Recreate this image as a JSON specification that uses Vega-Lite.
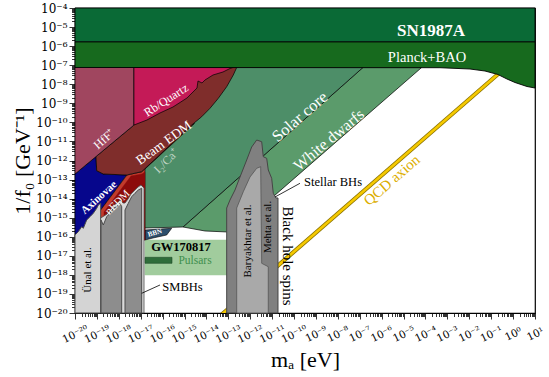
{
"$schema": "https://vega.github.io/schema/vega-lite/v6.json",
"width": 460, "height": 305,
"autosize": {"type": "none"},
"padding": {"left": 75, "top": 8, "right": 14, "bottom": 64},
"background": "white",
"config": {"view": {"stroke": "#000", "strokeWidth": 1.2}, "font": "Liberation Serif"},
"datasets": {
"poly": [
{"r":"SN","m":-20,"g":-5.77},{"r":"SN","m":1,"g":-5.77},{"r":"SN","m":1,"g":-4},{"r":"SN","m":-20,"g":-4},{"r":"SN","m":-20,"g":-5.77},
{"r":"PL","m":-20,"g":-5.77},{"r":"PL","m":1,"g":-5.77},{"r":"PL","m":1,"g":-8.197},{"r":"PL","m":0.634,"g":-8.118},{"r":"PL","m":0.086,"g":-7.908},{"r":"PL","m":-0.279,"g":-7.725},{"r":"PL","m":-0.69,"g":-7.489},{"r":"PL","m":-1.283,"g":-7.305},{"r":"PL","m":-1.968,"g":-7.2},{"r":"PL","m":-3.338,"g":-7.132},{"r":"PL","m":-20,"g":-7.12},{"r":"PL","m":-20,"g":-5.77},
{"r":"WD","m":-6.853,"g":-7.12},{"r":"WD","m":-4.173,"g":-7.12},{"r":"WD","m":-12.696,"g":-15.643},{"r":"WD","m":-13.016,"g":-15.751},{"r":"WD","m":-14.065,"g":-15.698},{"r":"WD","m":-15.07,"g":-15.488},{"r":"WD","m":-6.853,"g":-7.12},
{"r":"SC","m":-17.033,"g":-7.12},{"r":"SC","m":-6.853,"g":-7.12},{"r":"SC","m":-15.07,"g":-15.488},{"r":"SC","m":-16.804,"g":-15.541},{"r":"SC","m":-17.033,"g":-15.541},{"r":"SC","m":-17.033,"g":-7.12},
{"r":"GW","m":-16.804,"g":-16.17},{"r":"GW","m":-12.97,"g":-16.17},{"r":"GW","m":-12.97,"g":-18.006},{"r":"GW","m":-16.804,"g":-18.006},{"r":"GW","m":-16.804,"g":-16.17},
{"r":"PU","m":-16.804,"g":-17.078},{"r":"PU","m":-15.572,"g":-17.078},{"r":"PU","m":-15.572,"g":-17.393},{"r":"PU","m":-16.804,"g":-17.393},{"r":"PU","m":-16.804,"g":-17.078},
{"r":"BBN","m":-16.804,"g":-15.646},{"r":"BBN","m":-15.586,"g":-15.557},{"r":"BBN","m":-15.814,"g":-15.908},{"r":"BBN","m":-16.439,"g":-16.066},{"r":"BBN","m":-16.804,"g":-16.17},{"r":"BBN","m":-16.804,"g":-15.646},
{"r":"AX","m":-20,"g":-12.708},{"r":"AX","m":-19.041,"g":-11.795},{"r":"AX","m":-19.009,"g":-12.535},{"r":"AX","m":-18.708,"g":-12.708},{"r":"AX","m":-17.64,"g":-12.761},{"r":"AX","m":-18.859,"g":-14.649},{"r":"AX","m":-18.859,"g":-16.17},{"r":"AX","m":-20,"g":-16.17},{"r":"AX","m":-20,"g":-12.708},
{"r":"LR","m":-14.673,"g":-10.138},{"r":"LR","m":-14.545,"g":-10.059},{"r":"LR","m":-16.804,"g":-12.446},{"r":"LR","m":-16.804,"g":-16.17},{"r":"LR","m":-18.859,"g":-16.17},{"r":"LR","m":-18.859,"g":-14.649},{"r":"LR","m":-17.626,"g":-12.761},{"r":"LR","m":-16.955,"g":-12.588},{"r":"LR","m":-14.673,"g":-10.138},
{"r":"DR","m":-17.444,"g":-12.813},{"r":"DR","m":-16.941,"g":-12.708},{"r":"DR","m":-16.804,"g":-12.603},{"r":"DR","m":-16.804,"g":-16.17},{"r":"DR","m":-18.676,"g":-16.17},{"r":"DR","m":-18.676,"g":-14.702},{"r":"DR","m":-17.444,"g":-12.813},
{"r":"BR","m":-19.041,"g":-11.795},{"r":"BR","m":-17.31,"g":-10.14},{"r":"BR","m":-17.31,"g":-7.12},{"r":"BR","m":-12.618,"g":-7.12},{"r":"BR","m":-12.774,"g":-7.515},{"r":"BR","m":-13.075,"g":-8.128},{"r":"BR","m":-13.458,"g":-8.737},{"r":"BR","m":-13.837,"g":-9.262},{"r":"BR","m":-14.216,"g":-9.702},{"r":"BR","m":-14.673,"g":-10.138},{"r":"BR","m":-16.955,"g":-12.588},{"r":"BR","m":-17.64,"g":-12.761},{"r":"BR","m":-18.708,"g":-12.708},{"r":"BR","m":-19.009,"g":-12.535},{"r":"BR","m":-19.041,"g":-11.795},
{"r":"HF","m":-20,"g":-7.12},{"r":"HF","m":-17.31,"g":-7.12},{"r":"HF","m":-17.31,"g":-10.14},{"r":"HF","m":-20,"g":-12.708},{"r":"HF","m":-20,"g":-7.12},
{"r":"RB","m":-17.31,"g":-7.12},{"r":"RB","m":-12.787,"g":-7.12},{"r":"RB","m":-12.924,"g":-7.174},{"r":"RB","m":-13.244,"g":-7.357},{"r":"RB","m":-13.7,"g":-7.515},{"r":"RB","m":-14.065,"g":-7.777},{"r":"RB","m":-14.202,"g":-7.934},{"r":"RB","m":-14.385,"g":-7.829},{"r":"RB","m":-14.431,"g":-8.197},{"r":"RB","m":-14.887,"g":-8.721},{"r":"RB","m":-15.526,"g":-9.193},{"r":"RB","m":-16.12,"g":-9.508},{"r":"RB","m":-16.713,"g":-9.875},{"r":"RB","m":-17.31,"g":-10.14},{"r":"RB","m":-17.31,"g":-7.12},
{"r":"UN","m":-20,"g":-20},{"r":"UN","m":-20,"g":-15.908},{"r":"UN","m":-19.849,"g":-15.735},{"r":"UN","m":-19.694,"g":-15.473},{"r":"UN","m":-19.621,"g":-15.557},{"r":"UN","m":-19.466,"g":-15.121},{"r":"UN","m":-19.315,"g":-14.948},{"r":"UN","m":-19.165,"g":-14.77},{"r":"UN","m":-19.009,"g":-14.507},{"r":"UN","m":-18.936,"g":-14.334},{"r":"UN","m":-18.827,"g":-14.245},{"r":"UN","m":-18.827,"g":-20},{"r":"UN","m":-20,"g":-20},
{"r":"EN","m":-18.827,"g":-20},{"r":"EN","m":-18.827,"g":-15.016},{"r":"EN","m":-18.676,"g":-14.911},{"r":"EN","m":-18.539,"g":-14.807},{"r":"EN","m":-18.402,"g":-14.597},{"r":"EN","m":-18.22,"g":-14.334},{"r":"EN","m":-18.083,"g":-14.23},{"r":"EN","m":-17.946,"g":-14.072},{"r":"EN","m":-17.809,"g":-14.23},{"r":"EN","m":-17.717,"g":-14.23},{"r":"EN","m":-17.581,"g":-14.02},{"r":"EN","m":-17.444,"g":-13.757},{"r":"EN","m":-17.261,"g":-13.548},{"r":"EN","m":-17.124,"g":-13.39},{"r":"EN","m":-16.987,"g":-13.285},{"r":"EN","m":-16.85,"g":-13.443},{"r":"EN","m":-16.85,"g":-20},{"r":"EN","m":-18.827,"g":-20},
{"r":"B2","m":-18.813,"g":-20},{"r":"B2","m":-18.813,"g":-15.121},{"r":"B2","m":-18.708,"g":-15.384},{"r":"B2","m":-18.553,"g":-14.948},{"r":"B2","m":-18.402,"g":-14.77},{"r":"B2","m":-18.252,"g":-14.507},{"r":"B2","m":-18.096,"g":-14.424},{"r":"B2","m":-17.946,"g":-14.245},{"r":"B2","m":-17.868,"g":-14.424},{"r":"B2","m":-17.868,"g":-20},{"r":"B2","m":-18.813,"g":-20},
{"r":"B3","m":-17.717,"g":-20},{"r":"B3","m":-17.717,"g":-14.597},{"r":"B3","m":-17.567,"g":-14.245},{"r":"B3","m":-17.412,"g":-13.899},{"r":"B3","m":-17.261,"g":-13.721},{"r":"B3","m":-17.11,"g":-13.548},{"r":"B3","m":-16.955,"g":-13.458},{"r":"B3","m":-16.955,"g":-20},{"r":"B3","m":-17.717,"g":-20},
{"r":"BO","m":-13.075,"g":-20},{"r":"BO","m":-13.075,"g":-14.492},{"r":"BO","m":-12.924,"g":-14.072},{"r":"BO","m":-12.696,"g":-13.548},{"r":"BO","m":-12.468,"g":-12.866},{"r":"BO","m":-12.162,"g":-11.974},{"r":"BO","m":-11.934,"g":-11.292},{"r":"BO","m":-11.705,"g":-10.925},{"r":"BO","m":-11.477,"g":-11.014},{"r":"BO","m":-11.404,"g":-11.801},{"r":"BO","m":-11.249,"g":-11.885},{"r":"BO","m":-11.176,"g":-12.498},{"r":"BO","m":-11.021,"g":-12.934},{"r":"BO","m":-10.948,"g":-13.721},{"r":"BO","m":-10.824,"g":-13.967},{"r":"BO","m":-10.733,"g":-13.967},{"r":"BO","m":-10.733,"g":-20},{"r":"BO","m":-13.075,"g":-20},
{"r":"BI","m":-12.618,"g":-20},{"r":"BI","m":-12.618,"g":-14.492},{"r":"BI","m":-12.317,"g":-13.637},{"r":"BI","m":-12.011,"g":-12.866},{"r":"BI","m":-11.705,"g":-12.409},{"r":"BI","m":-11.523,"g":-12.325},{"r":"BI","m":-11.477,"g":-17.393},{"r":"BI","m":-11.176,"g":-17.571},{"r":"BI","m":-11.176,"g":-20},{"r":"BI","m":-12.618,"g":-20}
],
"qcd": [{"m":-13.5,"g":-20.28},{"m":-0.3,"g":-7.08}],
"leaders": [{"m":-10.87,"g":-13.915,"m2":-9.729,"g2":-13.196},{"m":-16.955,"g":-18.967,"m2":-16.12,"g2":-18.531}],
"labels": [
{"t":"SN1987A","m":-3.749,"g":-5.207},
{"t":"Planck+BAO","m":-3.931,"g":-6.623},
{"t":"Solar core","m":-9.729,"g":-9.718},
{"t":"White dwarfs","m":-8.405,"g":-10.925},
{"t":"Rb/Quartz","m":-15.846,"g":-8.826},
{"t":"Beam EDM","m":-15.937,"g":-11.082},
{"t":"I₂/Ca⁺","m":-15.846,"g":-12.026},
{"t":"HfF⁺","m":-18.676,"g":-10.872},
{"t":"Axinovae","m":-18.9,"g":-13.95},
{"t":"nEDM","m":-18.05,"g":-14.2},
{"t":"BBN","m":-16.348,"g":-15.803},
{"t":"GW170817","m":-15.161,"g":-16.538},
{"t":"Pulsars","m":-14.522,"g":-17.272},
{"t":"SMBHs","m":-15.093,"g":-18.636},
{"t":"Stellar BHs","m":-8.222,"g":-13.128},
{"t":"Black hole spins","m":-10.277,"g":-17.01},
{"t":"Baryakhtar et al.","m":-12.103,"g":-16.223},
{"t":"Mehta et al.","m":-11.19,"g":-15.488},
{"t":"Ünal et al.","m":-19.407,"g":-17.744},
{"t":"QCD axion","m":-5.543,"g":-13.023}
]
},
"layer": [
{
"encoding": {
"x": {"field": "m", "type": "quantitative", "scale": {"domain": [-20, 1], "nice": false, "zero": false}, "axis": null},
"y": {"field": "g", "type": "quantitative", "scale": {"domain": [-20, -4], "nice": false, "zero": false}, "axis": null}
},
"layer": [
{"data":{"name":"poly"},"transform":[{"filter":"datum.r==='WD'"}],"mark":{"type":"line","fill":"#5b9b6b","stroke":"#000","strokeWidth":0.7},"encoding":{"order":{"value":null}}},
{"data":{"name":"poly"},"transform":[{"filter":"datum.r==='SC'"}],"mark":{"type":"line","fill":"#4d8e68","stroke":"#000","strokeWidth":0.7},"encoding":{"order":{"value":null}}},
{"data":{"name":"poly"},"transform":[{"filter":"datum.r==='GW'"}],"mark":{"type":"line","fill":"#a1cc9d","stroke":"#a1cc9d","strokeWidth":0.5},"encoding":{"order":{"value":null}}},
{"data":{"name":"poly"},"transform":[{"filter":"datum.r==='PU'"}],"mark":{"type":"line","fill":"#2f6d3a","stroke":"#1f4a28","strokeWidth":0.6},"encoding":{"order":{"value":null}}},
{"data":{"name":"poly"},"transform":[{"filter":"datum.r==='BBN'"}],"mark":{"type":"line","fill":"#2c4e6c","stroke":"#000","strokeWidth":0.6},"encoding":{"order":{"value":null}}},
{"data":{"name":"poly"},"transform":[{"filter":"datum.r==='AX'"}],"mark":{"type":"line","fill":"#06068c","stroke":"#000","strokeWidth":0.7},"encoding":{"order":{"value":null}}},
{"data":{"name":"poly"},"transform":[{"filter":"datum.r==='LR'"}],"mark":{"type":"line","fill":"#c23a2c","stroke":"#000","strokeWidth":0.6},"encoding":{"order":{"value":null}}},
{"data":{"name":"poly"},"transform":[{"filter":"datum.r==='DR'"}],"mark":{"type":"line","fill":"#8c0b0b","stroke":"#8c0b0b","strokeWidth":0.4},"encoding":{"order":{"value":null}}},
{"data":{"name":"poly"},"transform":[{"filter":"datum.r==='BR'"}],"mark":{"type":"line","fill":"#7f2d2b","stroke":"#000","strokeWidth":0.7},"encoding":{"order":{"value":null}}},
{"data":{"name":"poly"},"transform":[{"filter":"datum.r==='HF'"}],"mark":{"type":"line","fill":"#a0465f","stroke":"#000","strokeWidth":0.7},"encoding":{"order":{"value":null}}},
{"data":{"name":"poly"},"transform":[{"filter":"datum.r==='RB'"}],"mark":{"type":"line","fill":"#c41a57","stroke":"#000","strokeWidth":0.7},"encoding":{"order":{"value":null}}},
{"data":{"name":"poly"},"transform":[{"filter":"datum.r==='UN'"}],"mark":{"type":"line","fill":"#d4d4d4","stroke":"#4a4a4a","strokeWidth":1},"encoding":{"order":{"value":null}}},
{"data":{"name":"poly"},"transform":[{"filter":"datum.r==='EN'"}],"mark":{"type":"line","fill":"#dadada","stroke":"#4a4a4a","strokeWidth":0.8},"encoding":{"order":{"value":null}}},
{"data":{"name":"poly"},"transform":[{"filter":"datum.r==='B2'"}],"mark":{"type":"line","fill":"#8d8d8d","stroke":"#4a4a4a","strokeWidth":1},"encoding":{"order":{"value":null}}},
{"data":{"name":"poly"},"transform":[{"filter":"datum.r==='B3'"}],"mark":{"type":"line","fill":"#8d8d8d","stroke":"#4a4a4a","strokeWidth":1},"encoding":{"order":{"value":null}}},
{"data":{"name":"qcd"},"mark":{"type":"line","stroke":"#8a7200","strokeWidth":4.2,"clip":true}},
{"data":{"name":"qcd"},"mark":{"type":"line","stroke":"#f5c900","strokeWidth":2.6,"clip":true}},
{"data":{"name":"poly"},"transform":[{"filter":"datum.r==='BO'"}],"mark":{"type":"line","fill":"#808080","stroke":"#454545","strokeWidth":1},"encoding":{"order":{"value":null}}},
{"data":{"name":"poly"},"transform":[{"filter":"datum.r==='BI'"}],"mark":{"type":"line","fill":"#a9a9a9","stroke":"#555555","strokeWidth":0.8},"encoding":{"order":{"value":null}}},
{"data":{"name":"poly"},"transform":[{"filter":"datum.r==='PL'"}],"mark":{"type":"line","fill":"#176a1e","stroke":"#000","strokeWidth":0.9},"encoding":{"order":{"value":null}}},
{"data":{"name":"poly"},"transform":[{"filter":"datum.r==='SN'"}],"mark":{"type":"line","fill":"#0a6a36","stroke":"#000","strokeWidth":0.9},"encoding":{"order":{"value":null}}},
{"data":{"name":"leaders"},"mark":{"type":"rule","color":"#000","strokeWidth":0.8},"encoding":{"x2":{"field":"m2"},"y2":{"field":"g2"}}},
{"data":{"name":"labels"},"transform":[{"filter":"datum.t==='SN1987A'"}],"mark":{"type":"text","font":"Liberation Serif","fontSize":17,"fontWeight":"bold","color":"#ffffff","align":"center","baseline":"middle"},"encoding":{"text":{"field":"t"}}},
{"data":{"name":"labels"},"transform":[{"filter":"datum.t==='Planck+BAO'"}],"mark":{"type":"text","font":"Liberation Serif","fontSize":14.5,"color":"#ffffff","align":"center","baseline":"middle"},"encoding":{"text":{"field":"t"}}},
{"data":{"name":"labels"},"transform":[{"filter":"datum.t==='Solar core'"}],"mark":{"type":"text","font":"Liberation Serif","fontSize":16.5,"color":"#ffffff","align":"center","baseline":"middle","angle":319},"encoding":{"text":{"field":"t"}}},
{"data":{"name":"labels"},"transform":[{"filter":"datum.t==='White dwarfs'"}],"mark":{"type":"text","font":"Liberation Serif","fontSize":16,"color":"#ffffff","align":"center","baseline":"middle","angle":320},"encoding":{"text":{"field":"t"}}},
{"data":{"name":"labels"},"transform":[{"filter":"datum.t==='Rb/Quartz'"}],"mark":{"type":"text","font":"Liberation Serif","fontSize":12,"color":"#ffffff","align":"center","baseline":"middle","angle":327},"encoding":{"text":{"field":"t"}}},
{"data":{"name":"labels"},"transform":[{"filter":"datum.t==='Beam EDM'"}],"mark":{"type":"text","font":"Liberation Serif","fontSize":13.5,"color":"#ffffff","align":"center","baseline":"middle","angle":324},"encoding":{"text":{"field":"t"}}},
{"data":{"name":"labels"},"transform":[{"filter":"datum.t==='I₂/Ca⁺'"}],"mark":{"type":"text","font":"Liberation Serif","fontSize":12,"color":"#bfd3c3","align":"center","baseline":"middle","angle":315},"encoding":{"text":{"field":"t"}}},
{"data":{"name":"labels"},"transform":[{"filter":"datum.t==='HfF⁺'"}],"mark":{"type":"text","font":"Liberation Serif","fontSize":12,"color":"#ffffff","align":"center","baseline":"middle","angle":318},"encoding":{"text":{"field":"t"}}},
{"data":{"name":"labels"},"transform":[{"filter":"datum.t==='Axinovae'"}],"mark":{"type":"text","font":"Liberation Serif","fontSize":11,"fontWeight":"bold","color":"#ffffff","align":"center","baseline":"middle","angle":318},"encoding":{"text":{"field":"t"}}},
{"data":{"name":"labels"},"transform":[{"filter":"datum.t==='nEDM'"}],"mark":{"type":"text","font":"Liberation Serif","fontSize":11,"color":"#ffffff","align":"center","baseline":"middle","angle":315},"encoding":{"text":{"field":"t"}}},
{"data":{"name":"labels"},"transform":[{"filter":"datum.t==='BBN'"}],"mark":{"type":"text","font":"Liberation Serif","fontSize":7,"fontWeight":"bold","color":"#ffffff","align":"center","baseline":"middle","angle":345},"encoding":{"text":{"field":"t"}}},
{"data":{"name":"labels"},"transform":[{"filter":"datum.t==='GW170817'"}],"mark":{"type":"text","font":"Liberation Serif","fontSize":12.5,"fontWeight":"bold","color":"#000000","align":"center","baseline":"middle"},"encoding":{"text":{"field":"t"}}},
{"data":{"name":"labels"},"transform":[{"filter":"datum.t==='Pulsars'"}],"mark":{"type":"text","font":"Liberation Serif","fontSize":11.5,"color":"#3f8f4e","align":"center","baseline":"middle"},"encoding":{"text":{"field":"t"}}},
{"data":{"name":"labels"},"transform":[{"filter":"datum.t==='SMBHs' || datum.t==='Stellar BHs'"}],"mark":{"type":"text","font":"Liberation Serif","fontSize":12.5,"color":"#000000","align":"center","baseline":"middle"},"encoding":{"text":{"field":"t"}}},
{"data":{"name":"labels"},"transform":[{"filter":"datum.t==='Black hole spins'"}],"mark":{"type":"text","font":"Liberation Serif","fontSize":15,"color":"#000000","align":"center","baseline":"middle","angle":90},"encoding":{"text":{"field":"t"}}},
{"data":{"name":"labels"},"transform":[{"filter":"datum.t==='Baryakhtar et al.' || datum.t==='Mehta et al.' || datum.t==='Ünal et al.'"}],"mark":{"type":"text","font":"Liberation Serif","fontSize":11,"color":"#000000","align":"center","baseline":"middle","angle":270},"encoding":{"text":{"field":"t"}}},
{"data":{"name":"labels"},"transform":[{"filter":"datum.t==='QCD axion'"}],"mark":{"type":"text","font":"Liberation Serif","fontSize":15,"color":"#dcae00","align":"center","baseline":"middle","angle":319},"encoding":{"text":{"field":"t"}}}
]
},
{
"data": {"values": [{"m": 1e-10, "g": 1e-10}]},
"mark": {"type": "point", "opacity": 0},
"encoding": {
"x": {"field": "m", "type": "quantitative", "scale": {"type": "log", "domain": [1e-20, 10], "nice": false},
 "axis": {"orient": "bottom", "title": "mₐ [eV]", "titleFont": "Liberation Serif", "titleFontSize": 22, "titleFontWeight": "normal", "titleColor": "#000", "titleY": 53, "titleBaseline": "alphabetic",
  "tickCount": 100, "grid": false, "domain": false, "tickColor": "#000", "tickWidth": 0.8,
  "tickSize": {"condition": {"test": "abs(log(datum.value)/LN10 - round(log(datum.value)/LN10)) < 0.01", "value": 6}, "value": 3.5},
  "labelExpr": "abs(log(datum.value)/LN10 - round(log(datum.value)/LN10)) < 0.01 ? '10' + replace(replace(replace(replace(replace(replace(replace(replace(replace(replace(replace(toString(round(log(datum.value)/LN10)), regexp('-','g'), '⁻'), regexp('0','g'), '⁰'), regexp('1','g'), '¹'), regexp('2','g'), '²'), regexp('3','g'), '³'), regexp('4','g'), '⁴'), regexp('5','g'), '⁵'), regexp('6','g'), '⁶'), regexp('7','g'), '⁷'), regexp('8','g'), '⁸'), regexp('9','g'), '⁹') : ''",
  "labelAngle": -26, "labelAlign": "center", "labelBaseline": "middle", "labelPadding": 15, "labelFont": "DejaVu Serif", "labelFontSize": 10.5, "labelColor": "#000", "labelOverlap": false, "labelBound": false, "labelFlush": false}},
"y": {"field": "g", "type": "quantitative", "scale": {"type": "log", "domain": [1e-20, 0.0001], "nice": false},
 "axis": {"orient": "left", "title": "1/f₀ [GeV⁻¹]", "titleFont": "Liberation Serif", "titleFontSize": 22, "titleFontWeight": "normal", "titleColor": "#000", "titleX": -46, "titleY": 152.5, "titleAlign": "center", "titleBaseline": "alphabetic", "titleAngle": 270,
  "tickCount": 100, "grid": false, "domain": false, "tickColor": "#000", "tickWidth": 0.8,
  "tickSize": {"condition": {"test": "abs(log(datum.value)/LN10 - round(log(datum.value)/LN10)) < 0.01", "value": 6}, "value": 3.5},
  "labelExpr": "abs(log(datum.value)/LN10 - round(log(datum.value)/LN10)) < 0.01 ? '10' + replace(replace(replace(replace(replace(replace(replace(replace(replace(replace(replace(toString(round(log(datum.value)/LN10)), regexp('-','g'), '⁻'), regexp('0','g'), '⁰'), regexp('1','g'), '¹'), regexp('2','g'), '²'), regexp('3','g'), '³'), regexp('4','g'), '⁴'), regexp('5','g'), '⁵'), regexp('6','g'), '⁶'), regexp('7','g'), '⁷'), regexp('8','g'), '⁸'), regexp('9','g'), '⁹') : ''",
  "labelPadding": 2, "labelFont": "DejaVu Serif", "labelFontSize": 12, "labelColor": "#000", "labelOverlap": false, "labelBound": false, "labelFlush": false, "labelAlign": "right", "labelBaseline": "middle"}}
}
}
],
"resolve": {"scale": {"x": "independent", "y": "independent"}}
}
